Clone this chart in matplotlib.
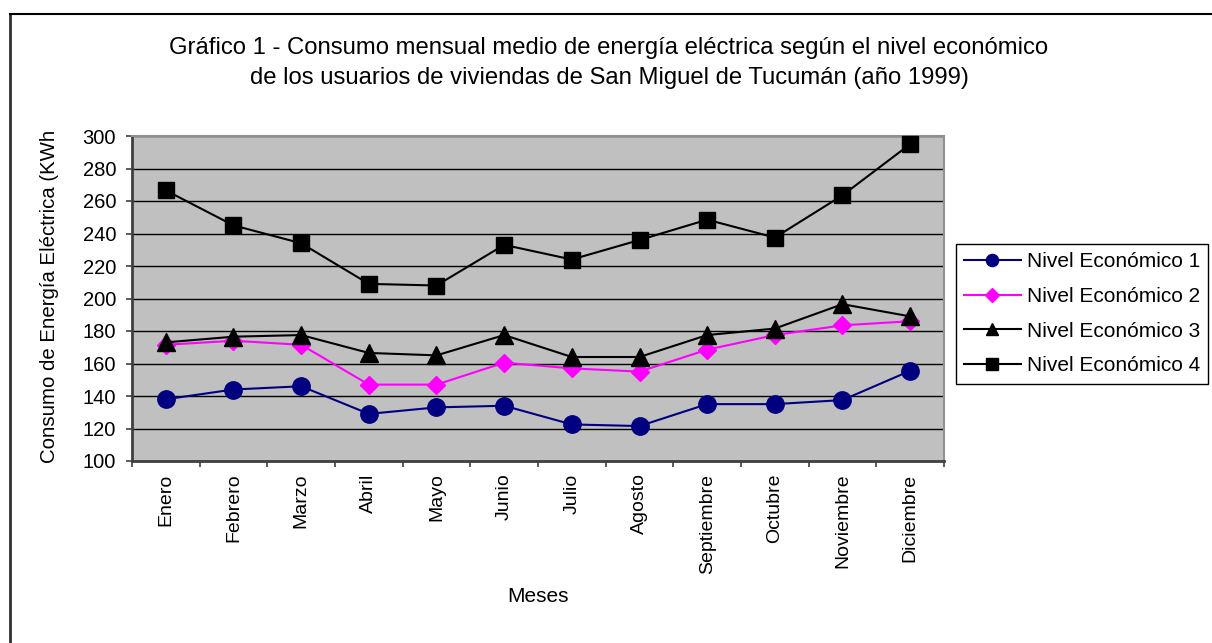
"""Consumo mensual medio de energía eléctrica por nivel económico (Tucumán, 1999)"""

import numpy as np
import matplotlib.pyplot as plt
from matplotlib.lines import Line2D

plt.rcParams["font.family"] = ["Liberation Sans", "DejaVu Sans"]

meses = ["Enero", "Febrero", "Marzo", "Abril", "Mayo", "Junio", "Julio",
         "Agosto", "Septiembre", "Octubre", "Noviembre", "Diciembre"]

nivel_1 = [138, 144, 146, 129, 133, 134, 122.5, 121.5, 135, 135, 137.5, 155.5]
nivel_2 = [171.5, 174, 171.5, 147, 147, 160.5, 157, 155, 168.5, 177.5, 183.5, 186]
nivel_3 = [173, 176.5, 177.5, 166.5, 165, 177.5, 164, 164, 177.5, 181.5, 196.5, 189]
nivel_4 = [266.5, 245, 234, 209, 208, 233, 224, 236, 248.5, 237.5, 263.5, 295]

series = [
    ("Nivel Económico 1", nivel_1, "#000080", "o", 12.5),
    ("Nivel Económico 2", nivel_2, "#FF00FF", "D", 9.5),
    ("Nivel Económico 3", nivel_3, "black", "^", 12.5),
    ("Nivel Económico 4", nivel_4, "black", "s", 12),
]

titulo = ("Gráfico 1 - Consumo mensual medio de energía eléctrica según el nivel económico\n"
          "de los usuarios de viviendas de San Miguel de Tucumán (año 1999)")

W, H = 1212, 643
fig = plt.figure(figsize=(W / 100, H / 100), dpi=100)
ax = fig.add_axes([132 / W, 1 - 461 / H, (944 - 132) / W, 325 / H])
ax.set_facecolor("#C0C0C0")

x = np.arange(len(meses))
for nombre, valores, color, marca, tam in series:
    ax.plot(x, valores, color=color, lw=1.5, marker=marca, markersize=tam,
            markerfacecolor=color, markeredgecolor=color, label=nombre,
            clip_on=False, zorder=3)

ax.set_xlim(-0.5, len(meses) - 0.5)
ax.set_ylim(100, 300)
ax.set_yticks(np.arange(100, 301, 20))
ax.yaxis.grid(True, color="black", lw=1)
ax.set_axisbelow(True)

ax.set_xticks(np.arange(-0.5, len(meses), 1))
ax.set_xticklabels([])
ax.set_xticks(x, minor=True)
ax.set_xticklabels(meses, minor=True, rotation=90, va="top", ha="center", fontsize=14)
ax.tick_params(axis="x", which="major", direction="out", length=4.5, width=1.2, color="#404040")
ax.tick_params(axis="x", which="minor", length=0, pad=9)
ax.tick_params(axis="y", direction="out", length=4.5, width=1.2, color="#404040",
               labelsize=14.5, pad=7)

for lado in ["left", "bottom"]:
    ax.spines[lado].set_color("#404040")
    ax.spines[lado].set_linewidth(2)
for lado in ["top", "right"]:
    ax.spines[lado].set_color("#909090")
    ax.spines[lado].set_linewidth(1.5)

fig.text(50 / W, 1 - 296 / H, "Consumo de Energía Eléctrica (KWh", rotation=90,
         ha="center", va="center", fontsize=14.7)
fig.text(538 / W, 1 - 596 / H, "Meses", ha="center", va="center", fontsize=15)
fig.text(609 / W, 1 - 63 / H, titulo, ha="center", va="center", fontsize=17.2,
         linespacing=1.5)

leg = ax.legend(loc="upper left", bbox_to_anchor=(956 / W, 1 - 244 / H),
                bbox_transform=fig.transFigure, fontsize=15, frameon=True,
                fancybox=False, edgecolor="black", framealpha=1,
                handlelength=2.7, handletextpad=0.3, labelspacing=0.75,
                borderpad=0.4, borderaxespad=0, markerscale=0.7)
leg.get_frame().set_linewidth(1)

# marco exterior del gráfico (recortado a la derecha y abajo)
fig.add_artist(Line2D([10 / W, 10 / W], [0, 1 - 14 / H], color="#303030", lw=2,
                      transform=fig.transFigure))
fig.add_artist(Line2D([10 / W, 1], [1 - 14 / H, 1 - 14 / H], color="black", lw=1.5,
                      transform=fig.transFigure))

fig.savefig("out.png", dpi=100)
